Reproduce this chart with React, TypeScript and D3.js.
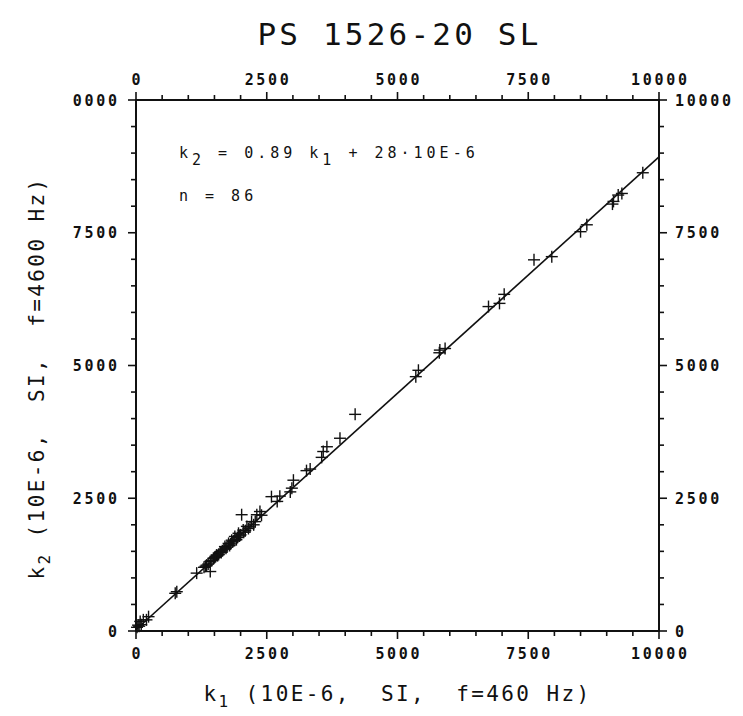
import React from "react";
import * as d3 from "d3";

const k1 = [
  9690, 9290, 9220, 9130, 9110, 8620, 8500, 7950, 7610, 7040, 6950, 6740, 5910, 5810, 5800, 5400, 5350,
  4190, 3900, 3650, 3580, 3550, 3330, 3260, 3010, 2980, 2950, 2750, 2590, 2370, 2310, 2020, 2210, 2120,
  2050, 1960, 1890, 1830, 1770, 1700, 1610, 1540, 1480, 1420, 1350, 1420, 1160, 780, 750, 240, 140, 80,
  40, 20, 1380, 1450, 1500, 1520, 1560, 1580, 1630, 1650, 1680, 1720, 1740, 1790, 1810, 1850, 1870, 1920,
  1940, 1980, 2000, 2060, 2090, 2150, 2180, 2250, 2280, 2400, 1300, 1330, 2700, 100, 60, 200,
];
const k2 = [
  8630, 8240, 8210, 8090, 8040, 7650, 7520, 7050, 6990, 6340, 6170, 6110, 5320, 5290, 5240, 4910, 4790,
  4080, 3630, 3470, 3380, 3270, 3050, 3020, 2840, 2690, 2620, 2540, 2530, 2250, 2190, 2190, 2060, 1970,
  1900, 1840, 1780, 1710, 1650, 1590, 1490, 1430, 1370, 1310, 1240, 1120, 1090, 740, 710, 270, 210, 180,
  110, 70, 1260, 1330, 1380, 1400, 1420, 1440, 1480, 1510, 1540, 1560, 1580, 1610, 1640, 1680, 1700, 1720,
  1760, 1790, 1810, 1860, 1890, 1930, 1960, 2000, 2060, 2180, 1200, 1220, 2440, 120, 90, 210,
];

const slope = 0.89;
const intercept = 28;
const majorTicks = [0, 2500, 5000, 7500, 10000];
const tickLabels = ["0", "2500", "5000", "7500", "10000"];
const minorStep = 500;
const title = "PS 1526-20 SL";
const nText = "n = 86";

export default function App() {
  const W = 743;
  const H = 716;
  const L = 136, R = 659, T = 100, B = 631;
  const x = d3.scaleLinear().domain([0, 10000]).range([L, R]);
  const y = d3.scaleLinear().domain([0, 10000]).range([B, T]);
  const minor = d3.range(0, 10001, minorStep);
  const line = d3.line<number>().x((d) => x(d)).y((d) => y(slope * d + intercept));
  const stroke = "#111";
  const mono = "DejaVu Sans Mono";
  const tls = 2.7;
  const tickFont = { fontFamily: mono, fontWeight: 700, fontSize: 15, letterSpacing: tls, fill: "#111" } as const;
  const textFont = { fontFamily: mono, fontSize: 15, letterSpacing: 4, fill: "#111", style: { whiteSpace: "pre" as const } };
  const labelFont = { fontFamily: mono, fontSize: 21, letterSpacing: 2.4, fill: "#111", style: { whiteSpace: "pre" as const } };
  const arm = 6;
  const isMajor = (v: number) => v % 2500 === 0;

  return (
    <svg width={W} height={H} style={{ position: "absolute", left: 0, top: 0, background: "#fff" }}>
      <defs>
        <clipPath id="leftclip">
          <rect x={72} y={0} width={W} height={H} />
        </clipPath>
      </defs>
      <rect x={0} y={0} width={W} height={H} fill="#fff" />
      <text x={(L + R) / 2 + 2} y={45} textAnchor="middle" fontFamily={mono} fontSize={31} letterSpacing={3.2} fill="#111">
        {title}
      </text>

      {/* frame */}
      <rect x={L} y={T} width={R - L} height={B - T} fill="none" stroke={stroke} strokeWidth={2} />

      {/* ticks */}
      {minor.map((v) => {
        const len = isMajor(v) ? 8 : 5;
        return (
          <g key={"t" + v} stroke={stroke} strokeWidth={1.6}>
            <line x1={x(v)} x2={x(v)} y1={T} y2={T - len} />
            <line x1={x(v)} x2={x(v)} y1={B} y2={B + len} />
            <line x1={L} x2={L - len} y1={y(v)} y2={y(v)} />
            <line x1={R} x2={R + len} y1={y(v)} y2={y(v)} />
          </g>
        );
      })}

      {/* tick labels */}
      {majorTicks.map((v, i) => (
        <g key={"l" + v}>
          <text x={x(v) + tls / 2} y={85} textAnchor="middle" {...tickFont}>{tickLabels[i]}</text>
          <text x={x(v) + tls / 2} y={659} textAnchor="middle" {...tickFont}>{tickLabels[i]}</text>
          <g clipPath="url(#leftclip)">
            <text x={117 + tls} y={y(v) + 5.5} textAnchor="end" {...tickFont}>{tickLabels[i]}</text>
          </g>
          <text x={675} y={y(v) + 5.5} textAnchor="start" {...tickFont}>{tickLabels[i]}</text>
        </g>
      ))}

      {/* regression line */}
      <path d={line([0, 10000]) || ""} fill="none" stroke={stroke} strokeWidth={1.6} />

      {/* points */}
      {k1.map((v, i) => (
        <g key={"p" + i} stroke={stroke} strokeWidth={1.4}>
          <line x1={x(v) - arm} x2={x(v) + arm} y1={y(k2[i])} y2={y(k2[i])} />
          <line x1={x(v)} x2={x(v)} y1={y(k2[i]) - arm} y2={y(k2[i]) + arm} />
        </g>
      ))}

      {/* annotation */}
      <text x={179} y={158} {...textFont}>
        k<tspan dy={7}>2</tspan>
        <tspan dy={-7}> = 0.89 k</tspan>
        <tspan dy={7}>1</tspan>
        <tspan dy={-7}> + 28·10E-6</tspan>
      </text>
      <text x={179} y={201} {...textFont}>{nText}</text>

      {/* axis labels */}
      <text x={(L + R) / 2} y={701} textAnchor="middle" {...labelFont}>
        k<tspan dy={6} fontSize={16}>1</tspan>
        <tspan dy={-6}>{" (10E-6,  SI,  f=460 Hz)"}</tspan>
      </text>
      <text transform={`translate(44, 378) rotate(-90)`} textAnchor="middle" {...labelFont}>
        k<tspan dy={6} fontSize={16}>2</tspan>
        <tspan dy={-6}>{" (10E-6,  SI,  f=4600 Hz)"}</tspan>
      </text>
    </svg>
  );
}
